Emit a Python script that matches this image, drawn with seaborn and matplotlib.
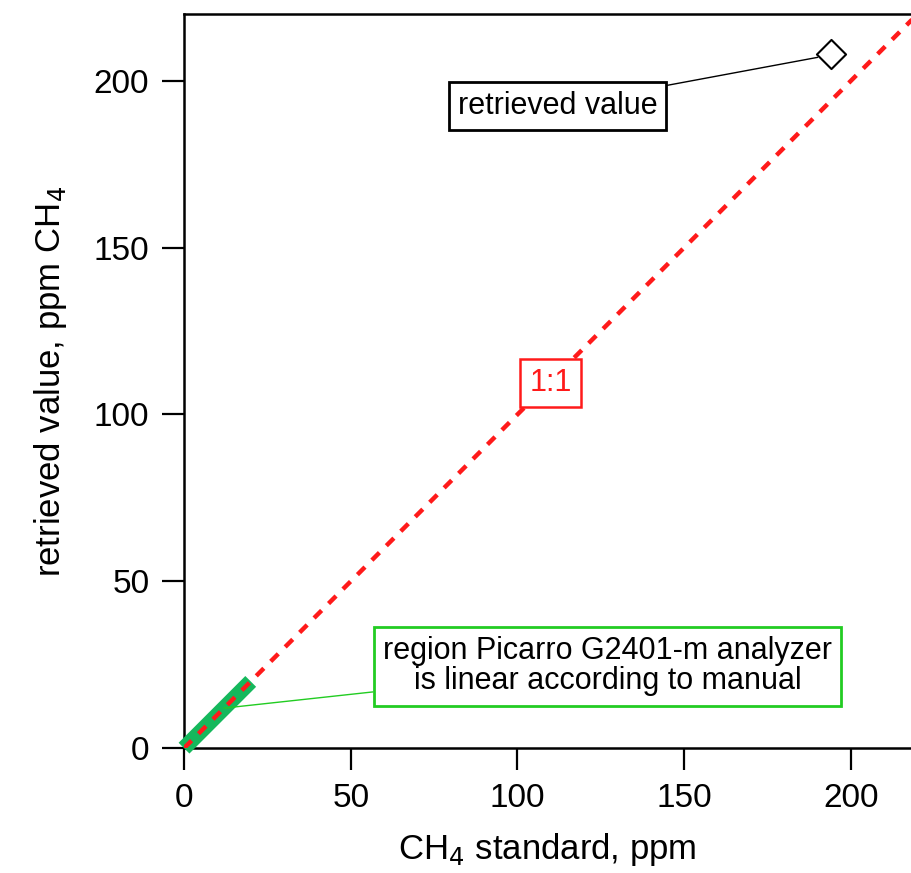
import matplotlib
matplotlib.use("Agg")
import matplotlib.pyplot as plt
import seaborn as sns
import pandas as pd

# data
one_to_one_x = [0, 230]
one_to_one_y = [0, 230]
linear_region_x = [0, 20]
linear_region_y = [0, 20]
standard_ppm = [194]
retrieved_ppm = [208]
x_ticks = [0, 50, 100, 150, 200]
y_ticks = [0, 50, 100, 150, 200]

sns.set_theme(style="ticks")
plt.rcParams['font.family'] = ['Liberation Sans', 'DejaVu Sans']
plt.rcParams['text.color'] = 'black'
plt.rcParams['axes.labelcolor'] = 'black'
plt.rcParams['xtick.labelcolor'] = 'black'
plt.rcParams['ytick.labelcolor'] = 'black'

fig = plt.figure(figsize=(9.11, 8.73), dpi=100)
ax = fig.add_axes([0.202, 0.143, 0.798, 0.841])

sns.lineplot(x=linear_region_x, y=linear_region_y, ax=ax, color="#15b85c",
             linewidth=11, solid_capstyle="butt", zorder=2)
ax.lines[-1].set_clip_on(False)
sns.lineplot(x=one_to_one_x, y=one_to_one_y, ax=ax, color="#ff1a1a",
             linewidth=3.2, dashes=False, zorder=3)
ax.lines[-1].set_dashes([2.4, 2.2])
sns.scatterplot(x=standard_ppm, y=retrieved_ppm, ax=ax, marker="D", s=220,
                facecolor="white", edgecolor="black", linewidth=1.5, zorder=5)

ax.set_xlim(0, 218)
ax.set_ylim(0, 220)
ax.set_xticks(x_ticks)
ax.set_yticks(y_ticks)
ax.tick_params(axis="both", direction="out", length=16, width=1.6,
               labelsize=24, color="black", pad=9)
for s in ["left", "bottom", "top"]:
    ax.spines[s].set_linewidth(1.8)
    ax.spines[s].set_color("black")
    ax.spines[s].set_zorder(1)
ax.spines["right"].set_visible(False)

ax.set_xlabel("CH$_4$ standard, ppm", fontsize=25, labelpad=12)
ax.set_ylabel("retrieved value, ppm CH$_4$", fontsize=25, labelpad=18)

ax.text(110, 109.5, "1:1", color="#ff1a1a", fontsize=22, ha="center", va="center",
        zorder=6, bbox=dict(boxstyle="square,pad=0.3", fc="white", ec="#ff1a1a", lw=1.8))

ax.annotate("retrieved value", xy=(190, 207), xytext=(112, 192.5),
            fontsize=22, ha="center", va="center", zorder=6,
            bbox=dict(boxstyle="square,pad=0.3", fc="white", ec="black", lw=2),
            arrowprops=dict(arrowstyle="-", color="black", lw=1, shrinkA=0, shrinkB=0))

ax.annotate("region Picarro G2401-m analyzer\nis linear according to manual",
            xy=(12, 12), xytext=(127, 24.5), fontsize=22, ha="center", va="center",
            linespacing=1.0, zorder=6,
            bbox=dict(boxstyle="square,pad=0.3", fc="white", ec="#22cc22", lw=2),
            arrowprops=dict(arrowstyle="-", color="#22cc22", lw=1, shrinkA=0, shrinkB=0))

fig.savefig("out.png", dpi=100)
